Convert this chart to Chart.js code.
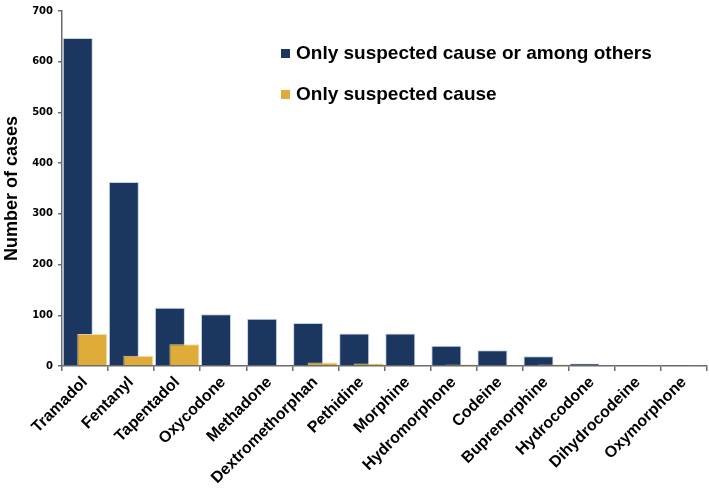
<!DOCTYPE html>
<html>
<head>
<meta charset="utf-8">
<script src="https://cdn.jsdelivr.net/npm/chart.js@4/dist/chart.umd.min.js"></script>
<style>
  html, body { margin: 0; padding: 0; background: #fff; }
  #wrap { width: 709px; height: 493px; position: relative; }
</style>
</head>
<body>
<div id="wrap"><canvas id="c" width="709" height="493"></canvas></div>
<script>
const categories = ["Tramadol","Fentanyl","Tapentadol","Oxycodone","Methadone","Dextromethorphan","Pethidine","Morphine","Hydromorphone","Codeine","Buprenorphine","Hydrocodone","Dihydrocodeine","Oxymorphone"];
const seriesAll = [647, 363, 115, 102, 93, 85, 64, 64, 40, 31, 19, 5, 2, 2];
const seriesOnly = [63, 20, 43, 0, 0, 7, 5, 0, 3, 0, 3, 0, 0, 0];
const seriesNames = ["Only suspected cause or among others", "Only suspected cause"];
const yTicks = [0, 100, 200, 300, 400, 500, 600, 700];

const BLUE = '#1c375f';
const GOLD = '#dfab39';
const AXIS = '#6b6b6b';

// draw datasets in index order so the second (gold) series overlaps the first
const drawOrderPlugin = {
  id: 'drawOrder',
  beforeDatasetsDraw(chart) {
    const metas = chart.getSortedVisibleDatasetMetas().slice().sort((a, b) => a.index - b.index);
    metas.forEach(meta => {
      if (typeof chart._drawDataset === 'function') chart._drawDataset(meta);
      else meta.controller.draw();
    });
    return false;
  }
};

const legendPlugin = {
  id: 'insideLegend',
  afterDraw(chart) {
    const ctx = chart.ctx;
    ctx.save();
    ctx.font = 'bold 19px "Liberation Sans", Arial, sans-serif';
    ctx.textBaseline = 'middle';
    ctx.textAlign = 'left';
    const rows = [54, 95];
    chart.data.datasets.forEach((ds, i) => {
      const y = rows[i];
      ctx.fillStyle = ds.backgroundColor;
      ctx.fillRect(281, y - 5, 9, 9);
      ctx.fillStyle = '#000';
      ctx.fillText(ds.label, 296, y);
    });
    ctx.restore();
  }
};

new Chart(document.getElementById('c'), {
  type: 'bar',
  data: {
    labels: categories,
    datasets: [
      { label: seriesNames[0], data: seriesAll, backgroundColor: BLUE, borderColor: 'rgba(190,205,228,0.9)', borderWidth: 1, categoryPercentage: 0.63, barPercentage: 2.07 },
      { label: seriesNames[1], data: seriesOnly, backgroundColor: GOLD, borderColor: 'rgba(245,220,160,0.9)', borderWidth: 1, categoryPercentage: 0.63, barPercentage: 2.07 }
    ]
  },
  options: {
    responsive: false,
    animation: false,
    devicePixelRatio: 1,
    layout: { padding: { left: 0, right: 2, top: 2, bottom: 0 } },
    plugins: { legend: { display: false }, tooltip: { enabled: false } },
    scales: {
      x: {
        offset: true,
        grid: { display: true, offset: true, drawOnChartArea: false, drawTicks: true, tickLength: 5, color: AXIS, lineWidth: 1.5 },
        border: { display: true, color: AXIS, width: 1.5 },
        ticks: {
          autoSkip: false, minRotation: 45, maxRotation: 45, color: '#000', padding: 2,
          font: { family: '"Liberation Sans", Arial, sans-serif', weight: 'bold', size: 16 }
        },
        afterFit(scale) { scale.height = 127; }
      },
      y: {
        min: 0, max: 700,
        afterBuildTicks(scale) { scale.ticks = yTicks.map(v => ({ value: v })); },
        grid: { display: true, drawOnChartArea: false, drawTicks: true, tickLength: 4, color: AXIS, lineWidth: 1.5 },
        border: { display: true, color: AXIS, width: 1.5 },
        ticks: {
          color: '#000', padding: 5,
          font: { family: '"DejaVu Sans", sans-serif', weight: 'bold', size: 10 }
        },
        title: {
          display: true, text: 'Number of cases', color: '#000',
          padding: { top: 1, bottom: 0 },
          font: { family: '"Liberation Sans", Arial, sans-serif', weight: 'bold', size: 18 }
        },
        afterFit(scale) { scale.width = 62; }
      }
    }
  },
  plugins: [drawOrderPlugin, legendPlugin]
});
</script>
</body>
</html>
